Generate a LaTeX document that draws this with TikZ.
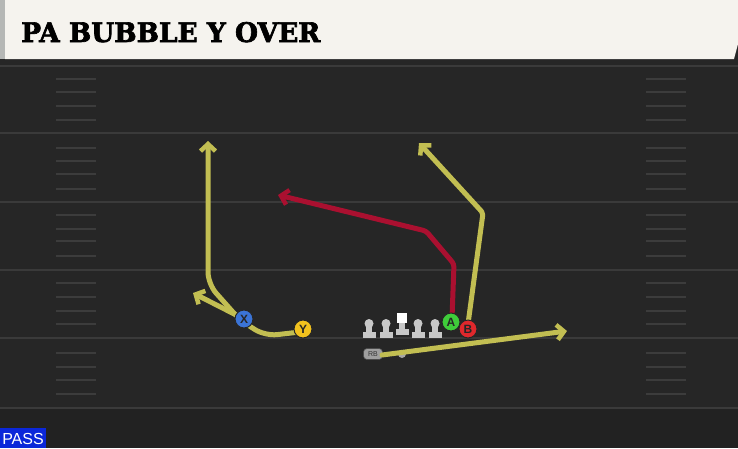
\documentclass[tikz,border=0pt]{standalone}
\usepackage{fontspec}
\usetikzlibrary{arrows.meta}
\newfontfamily\titlefont[FakeBold=2.5]{DejaVu Serif}
\newfontfamily\labelfont{Liberation Sans}
\definecolor{fieldbg}{HTML}{262626}
\definecolor{fieldlow}{HTML}{222222}
\definecolor{yardline}{HTML}{3A3A3A}
\definecolor{hashc}{HTML}{3C3C3C}
\definecolor{cream}{HTML}{F5F3EE}
\definecolor{edgegray}{HTML}{B5B7B5}
\definecolor{routeyel}{HTML}{C2BE52}
\definecolor{routered}{HTML}{AA1030}
\definecolor{passblue}{HTML}{0B27D9}
\definecolor{linegray}{HTML}{C8C8C8}
\definecolor{pA}{HTML}{3FCC3A}
\definecolor{pB}{HTML}{E0282C}
\definecolor{pX}{HTML}{3B74D6}
\definecolor{pY}{HTML}{F2C21E}
\tikzset{
  yard/.style={draw=yardline, line width=2pt},
  hashm/.style={draw=hashc, line width=1.6pt},
  route/.style={line width=5pt, line join=round, line cap=round,
    -{Straight Barb[length=7pt,width=15pt,line width=4.5pt]}},
  yroute/.style={route, draw=routeyel},
  rroute/.style={route, draw=routered},
  player/.style={circle, draw=black!85, line width=1pt, minimum size=18pt, inner sep=0pt,
    font=\labelfont\bfseries\fontsize{12}{12}\selectfont, text=black!85},
  lineman/.style={fill=linegray},
}
\begin{document}
\begin{tikzpicture}[x=1pt,y=-1pt]
\useasboundingbox (0,0) rectangle (738,448);
% field
\fill[fieldbg] (0,0) rectangle (738,448);
\fill[fieldlow] (0,408) rectangle (738,448);
% yard lines
\foreach \yy in {66,133,202,270,338,408} {\draw[yard] (0,\yy) -- (738,\yy);}
% hash marks
\foreach \yy in {79,92,106,120,148,161,174,189,215,229,241,256,283,297,311,324,353,367,380,394} {
  \draw[hashm] (56,\yy) -- (96,\yy);
  \draw[hashm] (646,\yy) -- (686,\yy);
}
% header
\fill[black!85] (0,58) rectangle (738,63);
\fill[edgegray] (0,0) rectangle (5,59);
\fill[cream] (5,0) -- (738,0) -- (738,44) -- (734,59) -- (5,59) -- cycle;
\node[anchor=base west, inner sep=0pt] (title) at (21,42)
  {\resizebox{299pt}{20pt}{\titlefont\bfseries PA BUBBLE Y OVER}};
% pass tag
\fill[passblue] (0,428) rectangle (46,448);
\node[anchor=base, inner sep=0pt, text=white] (pass) at (23,444)
  {\labelfont\fontsize{16}{16}\selectfont PASS};
% linemen
\foreach \xx/\nm in {369/lt,386/lg,418/rg,435/rt} {
  \fill[lineman] (\xx-6.5,331.5) rectangle (\xx+6.5,338);
  \fill[lineman] (\xx-3,325) rectangle (\xx+3,334);
  \node[circle, fill=linegray, minimum size=9pt, inner sep=0pt] (\nm) at (\xx,323.5) {};
}
\fill[lineman] (395.5,329) rectangle (408.5,335);
\fill[lineman] (399,320) rectangle (405,331);
\node[fill=white, minimum size=10pt, inner sep=0pt] (c) at (402,318) {};
% RB
\node[rounded corners=3.5pt, fill=gray!75, draw=black!70, line width=0.6pt, minimum width=19pt, minimum height=11pt,
  inner sep=0pt, font=\labelfont\fontsize{7}{7}\selectfont, text=black!80] (rb) at (373,354) {RB};
\node[circle, fill=gray!70, minimum size=8pt, inner sep=0pt] (dot) at (402,354) {};
% route coordinates
\coordinate (rbend) at (567,331);
\coordinate (a1) at (454,264);
\coordinate (a2) at (426,231);
\coordinate (aend) at (278,195);
\coordinate (b1) at (483,213);
\coordinate (bend) at (419,143);
\coordinate (xend) at (193,293);
\coordinate (y1) at (265,336);
\coordinate (y2) at (240,320);
\coordinate (y3) at (208,284);
\coordinate (yend) at (208,141);
% routes
\draw[yroute] (382,355) -- (rbend);
\draw[rroute, rounded corners=3pt] (452,318) -- (a1) -- (a2) -- (aend);
\draw[yroute, rounded corners=2pt] (468,324) -- (b1) -- (bend);
\draw[yroute, rounded corners=12pt] (300,332) -- (y1) -- (y2) -- (y3) -- (yend);
\draw[yroute] (244,319) -- (xend);
% skill players
\node[player, fill=pX] (x) at (244,319) {X};
\node[player, fill=pY] (y) at (303,329) {Y};
\node[player, fill=pA] (a) at (451,322) {A};
\node[player, fill=pB] (b) at (468,329) {B};
\end{tikzpicture}
\end{document}
